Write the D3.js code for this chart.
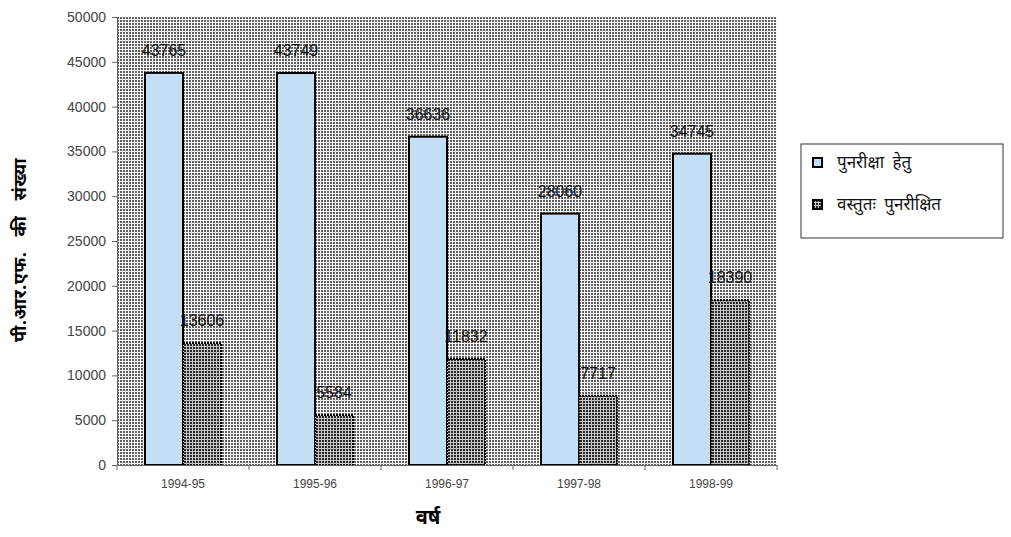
<!DOCTYPE html>
<html>
<head>
<meta charset="utf-8">
<script src="https://cdn.jsdelivr.net/npm/d3@7"></script>
<style>
  body { margin: 0; background: #fff; }
  .num { font-family: "Liberation Sans", Arial, sans-serif; }
  .hi { font-family: "Noto Sans Devanagari", "Noto Serif Devanagari", "Lohit Devanagari", "Noto Sans", sans-serif; }
</style>
</head>
<body>
<div id="chart"></div>
<script>
// data
const years = ["1994-95", "1995-96", "1996-97", "1997-98", "1998-99"];
const seriesNames = ["पुनरीक्षा हेतु", "वस्तुतः पुनरीक्षित"];
const dueForReview = [43765, 43749, 36636, 28060, 34745];
const actuallyReviewed = [13606, 5584, 11832, 7717, 18390];
const yTicks = [0, 5000, 10000, 15000, 20000, 25000, 30000, 35000, 40000, 45000, 50000];

const W = 1011, H = 537;
const m = {left: 117, right: 234, top: 17, bottom: 72};
const w = W - m.left - m.right;
const h = H - m.top - m.bottom;

const svg = d3.select("#chart").append("svg")
    .attr("width", W).attr("height", H);

// patterns
const defs = svg.append("defs");
const bg = defs.append("pattern").attr("id", "bgdots")
    .attr("width", 3).attr("height", 3).attr("patternUnits", "userSpaceOnUse");
bg.append("rect").attr("width", 3).attr("height", 3).attr("fill", "#f8f8f8");
bg.append("rect").attr("width", 2).attr("height", 2).attr("fill", "#606060");

const dk = defs.append("pattern").attr("id", "darkdots")
    .attr("width", 3).attr("height", 3).attr("patternUnits", "userSpaceOnUse");
dk.append("rect").attr("width", 3).attr("height", 3).attr("fill", "#c8c8c8");
dk.append("rect").attr("width", 2).attr("height", 2).attr("fill", "#262626");

const g = svg.append("g").attr("transform", `translate(${m.left},${m.top})`);

const x0 = d3.scaleBand().domain(years).range([0, w])
    .paddingInner(0.424).paddingOuter(0.212);
const x1 = d3.scaleBand().domain([0, 1]).range([0, x0.bandwidth()]);
const y = d3.scaleLinear().domain([0, 50000]).range([h, 0]);

// plot area
g.append("rect").attr("width", w).attr("height", h).attr("fill", "url(#bgdots)");

const rows = years.map((yr, i) => ({year: yr, vals: [dueForReview[i], actuallyReviewed[i]]}));

const grp = g.selectAll("g.grp").data(rows).enter().append("g")
    .attr("class", "grp")
    .attr("transform", d => `translate(${x0(d.year)},0)`);

grp.selectAll("rect").data(d => d.vals).enter().append("rect")
    .attr("x", (d, i) => x1(i))
    .attr("y", d => y(d))
    .attr("width", x1.bandwidth())
    .attr("height", d => h - y(d))
    .attr("fill", (d, i) => i == 0 ? "#c3def5" : "url(#darkdots)")
    .attr("stroke", "#000")
    .attr("stroke-width", 2)
    .attr("stroke-dasharray", (d, i) => i == 0 ? null : "2,1");

// value labels
grp.selectAll("text").data(d => d.vals).enter().append("text")
    .attr("class", "num")
    .attr("x", (d, i) => x1(i) + x1.bandwidth() / 2)
    .attr("y", d => y(d) - 17)
    .attr("text-anchor", "middle")
    .attr("font-size", 16)
    .attr("fill", "#111")
    .text(d => d);

// axes
const yAxis = g.append("g").call(d3.axisLeft(y).tickValues(yTicks).tickFormat(d3.format("d")).tickSize(5).tickPadding(6));
yAxis.select(".domain").attr("stroke", "#666");
yAxis.selectAll(".tick line").attr("stroke", "#666");
yAxis.selectAll("text").attr("class", "num").attr("font-size", 14).attr("fill", "#444");

const xAxis = g.append("g").attr("transform", `translate(0,${h})`)
    .call(d3.axisBottom(x0).tickSize(0).tickPadding(14));
xAxis.select(".domain").attr("stroke", "#666");
xAxis.selectAll("text").attr("class", "num").attr("font-size", 12).attr("fill", "#444");
// category separators
const step = x0.step();
g.append("g").selectAll("line").data(d3.range(years.length + 1)).enter().append("line")
    .attr("x1", d => d * step).attr("x2", d => d * step)
    .attr("y1", h).attr("y2", h + 5)
    .attr("stroke", "#666");

// axis titles
svg.append("text").attr("class", "hi")
    .attr("transform", "translate(26,250) rotate(-90)")
    .attr("text-anchor", "middle")
    .attr("font-size", 18).attr("font-weight", "bold")
    .attr("word-spacing", 10).attr("letter-spacing", 0.5)
    .text("पी.आर.एफ. की संख्या");

svg.append("text").attr("class", "hi")
    .attr("x", 428).attr("y", 524)
    .attr("text-anchor", "middle")
    .attr("font-size", 20).attr("font-weight", "bold")
    .text("वर्ष");

// legend
const lg = svg.append("g").attr("transform", "translate(801,144)");
lg.append("rect").attr("width", 202).attr("height", 94)
    .attr("fill", "#fff").attr("stroke", "#333").attr("stroke-width", 1);
const items = lg.selectAll("g.it").data(seriesNames).enter().append("g")
    .attr("class", "it")
    .attr("transform", (d, i) => `translate(12,${14 + i * 42})`);
items.append("rect").attr("width", 9).attr("height", 9)
    .attr("fill", (d, i) => i == 0 ? "#c3def5" : "url(#darkdots)")
    .attr("stroke", "#000").attr("stroke-width", 2);
items.append("text").attr("class", "hi")
    .attr("x", 24).attr("y", 10)
    .attr("font-size", 17).attr("fill", "#111")
    .attr("word-spacing", 4)
    .text(d => d);
</script>
</body>
</html>
